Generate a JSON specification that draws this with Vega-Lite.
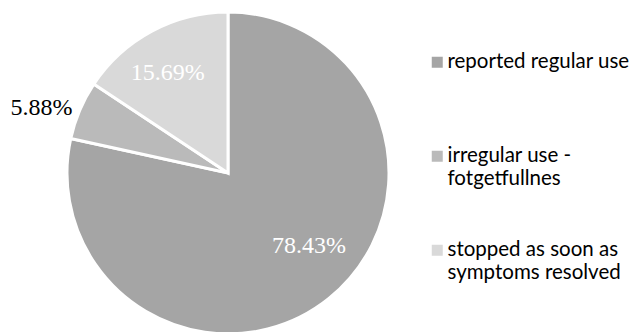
{
  "$schema": "https://vega.github.io/schema/vega-lite/v6.json",
  "width": 456,
  "height": 346,
  "padding": 0,
  "background": "white",
  "config": {"view": {"stroke": null}, "style": {"guide-label": {"lineHeight": 23}}},
  "data": {"values": [
    {"category": "reported regular use", "value": 78.43, "label": "78.43%", "order": 1},
    {"category": "irregular use - fotgetfullnes", "value": 5.88, "label": "5.88%", "order": 2},
    {"category": "stopped as soon as symptoms resolved", "value": 15.69, "label": "15.69%", "order": 3}
  ]},
  "encoding": {
    "theta": {"field": "value", "type": "quantitative", "stack": true},
    "order": {"field": "order", "type": "quantitative"}
  },
  "layer": [
    {
      "mark": {"type": "arc", "radius": 161, "stroke": "white", "strokeWidth": 3},
      "encoding": {
        "color": {
          "field": "category", "type": "nominal",
          "scale": {
            "domain": ["reported regular use", "irregular use - fotgetfullnes", "stopped as soon as symptoms resolved"],
            "range": ["#a5a5a5", "#bababa", "#d9d9d9"]
          },
          "legend": {
            "orient": "none", "legendX": 427, "legendY": 52, "title": null,
            "symbolType": "square", "symbolSize": 121, "symbolStrokeWidth": 0,
            "labelFont": "Lato", "labelFontSize": 20.5, "labelColor": "#000",
            "rowPadding": 50, "labelLimit": 300, "labelOffset": 0,
            "labelExpr": "datum.label == 'irregular use - fotgetfullnes' ? ['irregular use -', 'fotgetfullnes'] : datum.label == 'stopped as soon as symptoms resolved' ? ['stopped as soon as', 'symptoms resolved'] : [datum.label, ' ']"
          }
        }
      }
    },
    {
      "mark": {"type": "text", "radius": 117, "dx": -5, "dy": 3, "font": "Liberation Serif", "color": "white"},
      "encoding": {
        "text": {"field": "label"},
        "size": {"condition": {"test": "datum.order == 3", "value": 24}, "value": 0}
      }
    },
    {
      "mark": {"type": "text", "radius": 110, "dx": 12, "dy": -13, "font": "Liberation Serif", "color": "white"},
      "encoding": {
        "text": {"field": "label"},
        "size": {"condition": {"test": "datum.order == 1", "value": 24}, "value": 0}
      }
    },
    {
      "mark": {"type": "text", "radius": 197, "dy": 12, "dx": -5, "font": "Liberation Serif", "color": "black"},
      "encoding": {
        "text": {"field": "label"},
        "size": {"condition": {"test": "datum.order == 2", "value": 24}, "value": 0}
      }
    }
  ]
}
